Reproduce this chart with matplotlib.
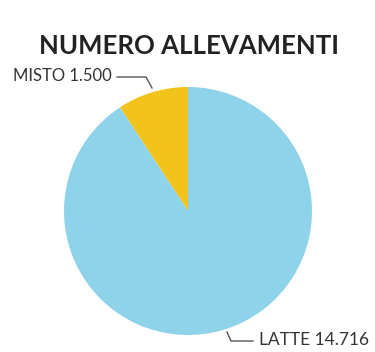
import matplotlib.pyplot as plt

labels = ["MISTO", "LATTE"]
values = [1500, 14716]
value_text = ["1.500", "14.716"]
colors = ["#f2c31b", "#8fd3ea"]

W, H = 375, 352
fig = plt.figure(figsize=(W / 100, H / 100), dpi=100)
ax = fig.add_axes([0, 0, 1, 1])

cx, cy, r = 188, H - 211, 124
ax.pie(values, colors=colors, startangle=90, counterclock=True,
       center=(cx, cy), radius=r, frame=True,
       wedgeprops=dict(linewidth=0))
ax.set_xlim(0, W)
ax.set_ylim(0, H)
ax.set_aspect("equal")
ax.axis("off")

txt = "#333333"
ax.text(189, H - 46, "NUMERO ALLEVAMENTI", ha="center", va="center",
        fontsize=18.5, fontweight="bold", family="Lato", color="#222222")

# leader lines
ax.plot([117, 146, 152], [H - 77, H - 77, H - 88], color="#555555", lw=1)
ax.plot([227, 231, 253], [H - 332, H - 341, H - 341], color="#555555", lw=1)

ax.text(13, H - 76, f"{labels[0]} {value_text[0]}", ha="left", va="center",
        fontsize=12, family="Lato", color=txt)
ax.text(259, H - 340, f"{labels[1]} {value_text[1]}", ha="left", va="center",
        fontsize=12.5, family="Lato", color=txt)

fig.savefig("out.png", dpi=100)
